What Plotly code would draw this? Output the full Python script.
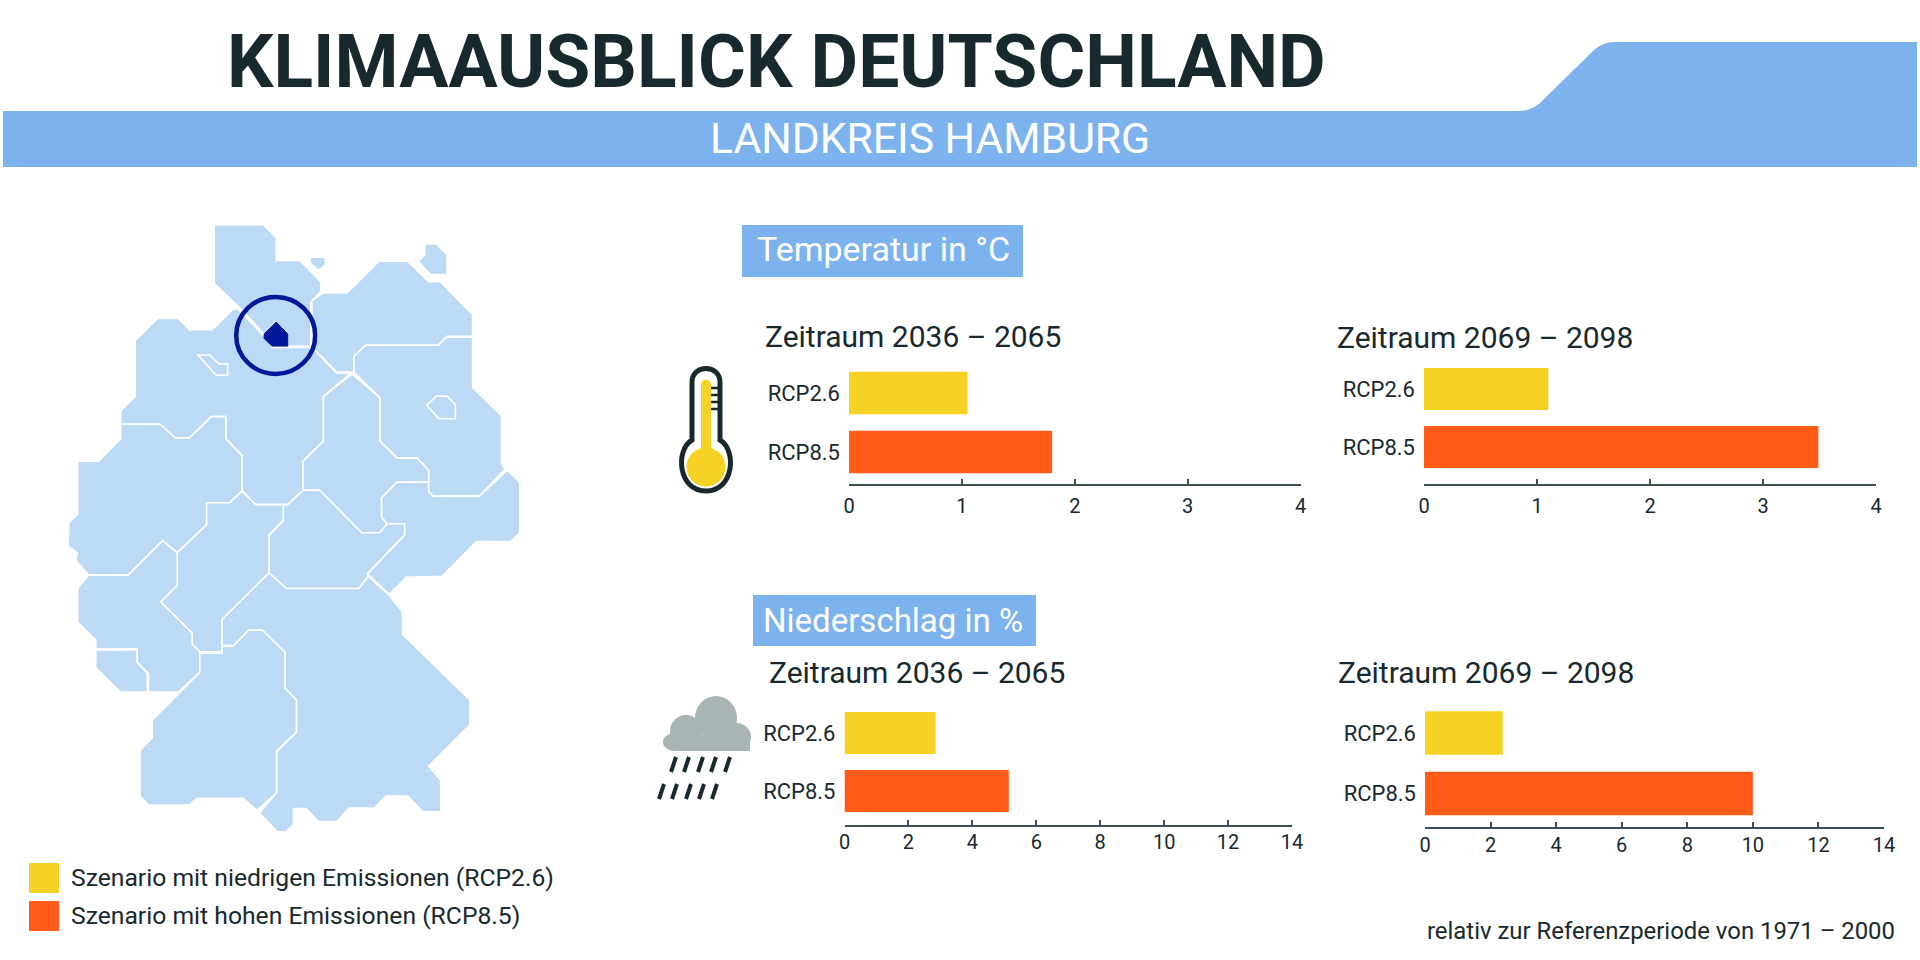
import plotly.graph_objects as go

# ---------- data ----------
scenarios = ["RCP2.6", "RCP8.5"]
temp_2036_2065 = [1.05, 1.80]
temp_2069_2098 = [1.10, 3.49]
rain_2036_2065 = [2.85, 5.14]
rain_2069_2098 = [2.37, 10.0]
temp_ticks = [0, 1, 2, 3, 4]
rain_ticks = [0, 2, 4, 6, 8, 10, 12, 14]
period_a = "Zeitraum 2036 – 2065"
period_b = "Zeitraum 2069 – 2098"
legend_low = "Szenario mit niedrigen Emissionen (RCP2.6)"
legend_high = "Szenario mit hohen Emissionen (RCP8.5)"
main_title = "KLIMAAUSBLICK DEUTSCHLAND"
sub_title = "LANDKREIS HAMBURG"
temp_heading = "Temperatur in °C"
rain_heading = "Niederschlag in %"
footnote = "relativ zur Referenzperiode von 1971 – 2000"

# ---------- style ----------
W, H = 1920, 960
BAND = "#7cb3ee"
MAP = "#bcd9f6"
YELLOW = "#f5d223"
ORANGE = "#ff5c1a"
INK = "#18292e"
AXIS = "#3d4e54"
NAVY = "#00189a"
CLOUD = "#a9b5b5"
NARROW = "Roboto"
TITLE_FONT = "Roboto"

# panel geometry in page pixels: left, right, axis y, bar-1 centre, bar-2 centre, max, label standoff
panels = [
    (temp_2036_2065, temp_ticks, 849, 1300.5, 484, 393, 452, 4, 3),
    (temp_2069_2098, temp_ticks, 1424, 1876, 483.5, 389, 447, 4, 3),
    (rain_2036_2065, rain_ticks, 844.5, 1292, 825, 733, 791, 14, -2),
    (rain_2069_2098, rain_ticks, 1425, 1884, 827, 733, 793.5, 14, -1),
]

fig = go.Figure()
for i, (vals, ticks, x0, x1, ay, c0, c1, xmax, standoff) in enumerate(panels, start=1):
    step = c1 - c0
    top = c0 - step * 0.5
    fig.add_trace(go.Bar(
        x=vals, y=scenarios, orientation="h",
        marker=dict(color=[YELLOW, ORANGE], line=dict(width=0)),
        xaxis=f"x{i}", yaxis=f"y{i}", showlegend=False, hoverinfo="x+y",
    ))
    fig.layout[f"xaxis{i}"] = dict(
        domain=[x0 / W, x1 / W], range=[0, xmax], anchor=f"y{i}", side="bottom",
        automargin=False,
        tickmode="array", tickvals=ticks, ticktext=[str(t) for t in ticks],
        ticks="inside", ticklen=5, tickwidth=2, tickcolor=AXIS,
        showline=True, linecolor=AXIS, linewidth=2, showgrid=False, zeroline=False,
        tickfont=dict(family=NARROW, size=20, color=INK), ticklabelstandoff=standoff,
    )
    fig.layout[f"yaxis{i}"] = dict(
        domain=[1 - ay / H, 1 - top / H], range=[1 + (ay - c1) / step, -0.5],
        automargin=False,
        anchor=f"x{i}", type="category", categoryorder="array", categoryarray=scenarios,
        showline=False, showgrid=False, zeroline=False, ticks="",
        tickfont=dict(family=NARROW, size=22, color=INK), ticklabelstandoff=8,
    )

# full page pixel overlay used for decoration
fig.layout["xaxis5"] = dict(domain=[0, 1], range=[0, W], visible=False, anchor="y5", automargin=False)
fig.layout["yaxis5"] = dict(domain=[0, 1], range=[H, 0], visible=False, anchor="x5", automargin=False)
fig.add_trace(go.Scatter(x=[0], y=[0], xaxis="x5", yaxis="y5", mode="markers",
                         marker=dict(opacity=0), showlegend=False, hoverinfo="skip"))

shapes = []


def add_path(d, fill=None, line=None, lw=0):
    shapes.append(dict(type="path", path=d, xref="x5", yref="y5", layer="below",
                       fillcolor=fill or "rgba(0,0,0,0)",
                       line=dict(color=line or "rgba(0,0,0,0)", width=lw)))


def add_rect(x0, y0, x1, y1, fill):
    shapes.append(dict(type="rect", x0=x0, y0=y0, x1=x1, y1=y1, xref="x5", yref="y5",
                       layer="below", fillcolor=fill, line=dict(width=0)))


def add_oval(cx, cy, rx, ry, fill=None, line=None, lw=0):
    shapes.append(dict(type="circle", x0=cx - rx, x1=cx + rx, y0=cy - ry, y1=cy + ry,
                       xref="x5", yref="y5", layer="below",
                       fillcolor=fill or "rgba(0,0,0,0)",
                       line=dict(color=line or "rgba(0,0,0,0)", width=lw)))


# header band
add_path("M3,111 L1519,111 C1530,111 1538,106 1545,98 L1592,52 C1599,45 1606,42 1616,42 "
         "L1917,42 L1917,167 L3,167 Z", fill=BAND)
add_rect(742, 225, 1023, 277, BAND)
add_rect(753, 595, 1036, 646, BAND)

# map outlines (x/2.613, 180+y/2.24)
states = [
    [(560,100),(688,100),(722,130),(722,180),(783,180),(838,228),(838,250),(812,275),(812,372),(752,372),(752,345),(722,318),(690,345),(625,285),(560,232)],
    [(810,173),(850,173),(850,190),(832,203),(810,185)],
    [(1110,143),(1140,143),(1168,168),(1168,212),(1125,212),(1093,182),(1110,168)],
    [(815,270),(845,253),(907,253),(990,182),(1065,182),(1120,228),(1150,228),(1235,302),(1235,350),(1168,350),(1145,370),(955,370),(925,395),(925,430),(880,430),(815,374)],
    [(555,335),(610,288),(622,288),(688,348),(710,375),(815,375),(880,432),(915,433),(845,485),(845,585),(792,630),(792,695),(752,727),(668,727),(632,695),(632,617),(590,580),(590,530),(552,530),(495,578),(458,578),(418,547),(315,547),(315,518),(353,485),(353,360),(412,310),(465,310),(495,335)],
    [(517,392),(548,392),(572,412),(595,412),(595,437),(565,437)],
    [(925,430),(925,395),(955,370),(1145,370),(1168,352),(1235,352),(1235,465),(1310,528),(1310,635),(1320,647),(1253,708),(1132,708),(1120,698),(1120,650),(1090,623),(1038,623),(993,585),(993,488)],
    [(1115,505),(1140,484),(1168,484),(1190,503),(1190,535),(1147,535)],
    [(920,434),(993,488),(993,585),(1038,623),(1090,623),(1120,650),(1120,677),(1037,677),(997,712),(997,755),(1012,770),(992,790),(945,790),(835,695),(792,695),(792,630),(845,585),(845,485)],
    [(1012,770),(1057,770),(1057,795),(960,882),(1017,928),(1062,890),(1155,888),(1245,810),(1335,810),(1358,790),(1358,677),(1326,650),(1253,708),(1132,708),(1120,698),(1120,677),(1037,677),(997,712),(997,755)],
    [(792,695),(835,695),(945,790),(992,790),(1012,770),(1057,770),(1057,795),(960,882),(962,888),(938,915),(748,915),(703,880),(703,795),(740,763),(740,727),(752,727)],
    [(315,547),(418,547),(458,578),(495,578),(552,530),(590,530),(590,580),(632,617),(632,697),(600,723),(540,723),(540,772),(463,835),(425,808),(335,885),(232,885),(198,852),(202,835),(178,820),(180,768),(203,748),(203,630),(258,630),(315,580)],
    [(632,697),(668,727),(740,727),(740,763),(703,795),(703,880),(580,985),(580,1057),(522,1057),(502,1040),(502,1015),(420,945),(463,908),(463,835),(540,772),(540,723),(600,723)],
    [(232,885),(335,885),(425,808),(463,835),(463,908),(420,945),(502,1015),(502,1040),(522,1057),(522,1103),(465,1147),(388,1147),(388,1105),(358,1080),(358,1050),(250,1050),(250,1030),(203,990),(203,915)],
    [(250,1053),(358,1053),(358,1080),(385,1105),(385,1147),(315,1147),(250,1092)],
    [(522,1060),(580,1060),(580,1043),(610,1043),(650,1008),(686,1008),(745,1058),(745,1138),(775,1165),(775,1237),(723,1280),(723,1372),(672,1412),(635,1385),(515,1385),(495,1400),(388,1400),(366,1380),(366,1278),(398,1250),(398,1210),(522,1103)],
    [(703,880),(748,915),(938,915),(962,888),(1017,930),(1052,968),(1052,1018),(1228,1165),(1228,1220),(1120,1313),(1152,1345),(1152,1415),(1105,1415),(1065,1380),(1008,1380),(978,1407),(912,1407),(880,1437),(832,1437),(800,1408),(767,1408),(767,1443),(748,1460),(725,1460),(678,1418),(723,1372),(723,1280),(775,1237),(775,1165),(745,1138),(745,1058),(686,1008),(650,1008),(610,1043),(580,1043),(580,985)],
]
hamburg = [(690,345),(722,318),(752,345),(752,372),(710,372),(690,355)]


def map_path(pts):
    c = [(x / 2.613, 180 + y / 2.24) for x, y in pts]
    return "M" + " L".join(f"{x:.1f},{y:.1f}" for x, y in c) + " Z"


for poly in states:
    add_path(map_path(poly), fill=MAP, line="#ffffff", lw=1.6)
add_path(map_path(hamburg), fill=NAVY, line=NAVY, lw=1)
add_oval(275.7, 335.4, 39.5, 38.5, line=NAVY, lw=4.5)

# thermometer
add_path("M692,440 L692,382 C692,364 720,364 720,382 L720,440 C737,450 734,491 706,491 "
         "C678,491 675,450 692,440 Z", fill="#ffffff", line=INK, lw=5)
add_path("M701,455 L701,385 C701,378 711,378 711,385 L711,455 Z", fill=YELLOW)
add_oval(706, 467, 19.5, 19.5, fill=YELLOW)
for ty in (388, 395, 402, 409):
    add_path(f"M711,{ty} L720,{ty}", line=INK, lw=2.5)

# rain cloud
add_oval(716, 718, 21, 22, fill=CLOUD)
add_oval(686, 731, 16, 16, fill=CLOUD)
add_oval(736, 737, 15, 14, fill=CLOUD)
add_oval(674, 742, 11, 9, fill=CLOUD)
add_rect(674, 735, 750, 751, CLOUD)
for row_y, xs in ((757, (671, 684, 698, 711, 725)), (784, (659, 672, 686, 699, 712))):
    for bx in xs:
        add_path(f"M{bx},{row_y + 15} L{bx + 5},{row_y}", line=INK, lw=4)

# legend swatches
add_rect(29, 863, 59, 893, YELLOW)
add_rect(29, 901, 59, 931, ORANGE)

fig.update_layout(shapes=shapes)


def label(text, x, y, size, color=INK, family=NARROW, anchor="left", weight=400):
    fig.add_annotation(text=text, x=x, y=y, xref="x5", yref="y5", xanchor=anchor,
                       yanchor="middle", showarrow=False,
                       font=dict(family=family, size=size, color=color, weight=weight))


label(main_title, 225, 62, 73.2, family=TITLE_FONT, weight=700)
label(sub_title, 708, 138, 42.7, color="#ffffff")
label(temp_heading, 755, 249, 34, color="#ffffff")
label(rain_heading, 761, 620, 33, color="#ffffff")
label(period_a, 763, 336, 30)
label(period_b, 1335, 337, 30)
label(period_a, 767, 672, 30)
label(period_b, 1336, 672, 30)
label(legend_low, 69, 877, 24.7)
label(legend_high, 69, 915, 24.7)
label(footnote, 1425, 931, 23.9)

fig.update_layout(width=W, height=H, margin=dict(l=0, r=0, t=0, b=0),
                  paper_bgcolor="#ffffff", plot_bgcolor="rgba(0,0,0,0)",
                  bargap=0.28, showlegend=False)
fig.write_html("out.html", config={"displayModeBar": False},
               post_script="document.body.style.margin='0';")
